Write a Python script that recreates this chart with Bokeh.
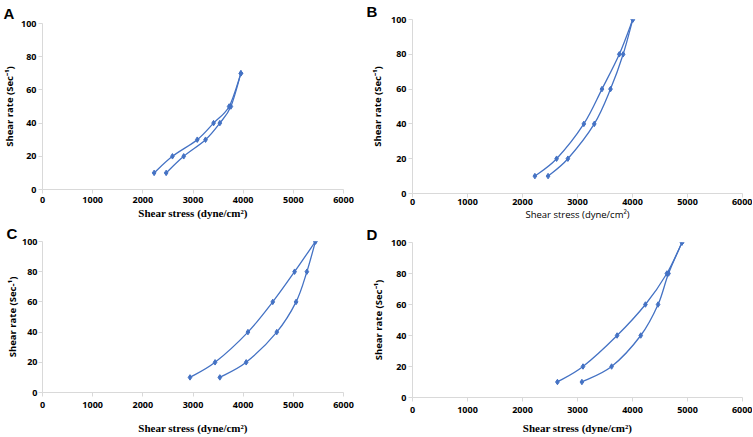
from bokeh.plotting import figure
from bokeh.layouts import row, column
from bokeh.models import Range1d, FixedTicker
from bokeh.embed import file_html
from bokeh.resources import INLINE

# ---------------- data ----------------
x_ticks = [0, 1000, 2000, 3000, 4000, 5000, 6000]
y_ticks = [0, 20, 40, 60, 80, 100]

rate_A = [10, 20, 30, 40, 50, 70]
stress_A_up = [2225, 2590, 3085, 3410, 3720, 3955]
stress_A_down = [2465, 2815, 3250, 3535, 3755, 3955]

rate_B = [10, 20, 40, 60, 80, 100]
stress_B_up = [2225, 2620, 3115, 3445, 3760, 4005]
stress_B_down = [2465, 2825, 3305, 3600, 3830, 4005]

rate_C = [10, 20, 40, 60, 80, 100]
stress_C_up = [2940, 3440, 4095, 4590, 5025, 5440]
stress_C_down = [3535, 4060, 4670, 5055, 5270, 5440]

rate_D = [10, 20, 40, 60, 80, 100]
stress_D_up = [2635, 3100, 3720, 4235, 4625, 4900]
stress_D_down = [3080, 3620, 4150, 4465, 4655, 4900]

x_title = "Shear stress (dyne/cm\u00b2)"
y_title = "Shear rate (Sec\u207b\u00b9)"
y_title_C = "Shear rate (Sec-\u00b9)"

BLUE = "#4472C4"
AXIS = "#D9D9D9"
SANS = "Open Sans"
SERIF = "Liberation Serif"


def smooth(p, xs, ys):
    # Catmull-Rom style smoothing drawn as bezier segments (like Excel smoothed lines)
    n = len(xs)
    x0, y0, x1, y1, cx0, cy0, cx1, cy1 = [], [], [], [], [], [], [], []
    for i in range(n - 1):
        pxm = xs[i - 1] if i > 0 else xs[i]
        pym = ys[i - 1] if i > 0 else ys[i]
        pxp = xs[i + 2] if i + 2 < n else xs[i + 1]
        pyp = ys[i + 2] if i + 2 < n else ys[i + 1]
        x0.append(xs[i]); y0.append(ys[i])
        x1.append(xs[i + 1]); y1.append(ys[i + 1])
        cx0.append(xs[i] + (xs[i + 1] - pxm) / 6.0)
        cy0.append(ys[i] + (ys[i + 1] - pym) / 6.0)
        cx1.append(xs[i + 1] - (pxp - xs[i]) / 6.0)
        cy1.append(ys[i + 1] - (pyp - ys[i]) / 6.0)
    p.bezier(x0=x0, y0=y0, x1=x1, y1=y1, cx0=cx0, cy0=cy0, cx1=cx1, cy1=cy1,
             line_color=BLUE, line_width=1.3)
    p.scatter(xs, ys, marker="diamond", size=5.5, fill_color=BLUE, line_color=BLUE)


def panel(letter, l_offset, l_standoff, width, height, bl, br, bt, bb, ytitle,
          y_lab_standoff, y_title_standoff, xtitle_font, xtitle_style, xtitle_size,
          x_lab_standoff, x_title_standoff):
    p = figure(width=width, height=height, output_backend="svg",
               toolbar_location=None, x_range=Range1d(0, 6000),
               y_range=Range1d(0, 100), min_border_left=bl,
               min_border_right=br, min_border_top=bt, min_border_bottom=bb)
    p.title.text = letter
    p.title.align = "left"
    p.title.offset = l_offset
    p.title.standoff = l_standoff
    p.title.text_font = "Liberation Sans"
    p.title.text_font_style = "bold"
    p.title.text_font_size = "15px"
    p.title.text_color = "#000000"
    p.outline_line_color = None
    p.xgrid.visible = False
    p.ygrid.visible = False
    p.background_fill_color = "white"
    p.border_fill_color = "white"
    p.xaxis.ticker = FixedTicker(ticks=x_ticks)
    p.yaxis.ticker = FixedTicker(ticks=y_ticks)
    for ax in (p.xaxis[0], p.yaxis[0]):
        ax.axis_line_color = AXIS
        ax.major_tick_line_color = AXIS
        ax.major_tick_out = 4
        ax.major_tick_in = 0
        ax.minor_tick_line_color = None
        ax.major_label_text_font = SANS
        ax.major_label_text_font_style = "bold"
        ax.major_label_text_font_size = "9px"
        ax.major_label_text_color = "#000000"
    p.yaxis.major_label_standoff = y_lab_standoff
    p.yaxis.axis_label = ytitle
    p.yaxis.axis_label_text_font = SANS
    p.yaxis.axis_label_text_font_style = "bold"
    p.yaxis.axis_label_text_font_size = "9.5px"
    p.yaxis.axis_label_text_color = "#000000"
    p.yaxis.axis_label_standoff = y_title_standoff
    p.xaxis.major_label_standoff = x_lab_standoff
    p.xaxis.axis_label = x_title
    p.xaxis.axis_label_text_font = xtitle_font
    p.xaxis.axis_label_text_font_style = xtitle_style
    p.xaxis.axis_label_text_font_size = xtitle_size
    p.xaxis.axis_label_text_color = "#000000"
    p.xaxis.axis_label_standoff = x_title_standoff
    return p


pA = panel("A", -39, 3, 365, 221, 42, 21, 23, 32, y_title, 2, 2,
           SERIF, "bold", "11px", 3, 1)
smooth(pA, stress_A_up, rate_A)
smooth(pA, stress_A_down, rate_A)

pC = panel("C", -36, 0, 365, 215, 39, 22, 20, 44, y_title_C, 1, 0,
           SERIF, "bold", "11px", 5, 11)
smooth(pC, stress_C_up, rate_C)
smooth(pC, stress_C_down, rate_C)

pB = panel("B", -46, 0, 387, 223, 44, 10, 18, 30, y_title, 2, 4,
           SANS, "normal", "9.5px", 1, 0)
smooth(pB, stress_B_up, rate_B)
smooth(pB, stress_B_down, rate_B)

pD = panel("D", -46, 0, 387, 213, 47, 10, 18, 39, y_title, 2, 3,
           SERIF, "bold", "11px", 5, 6)
smooth(pD, stress_D_up, rate_D)
smooth(pD, stress_D_down, rate_D)

layout = row(column(pA, pC), column(pB, pD))

open("out.html", "w").write(file_html(layout, INLINE))
